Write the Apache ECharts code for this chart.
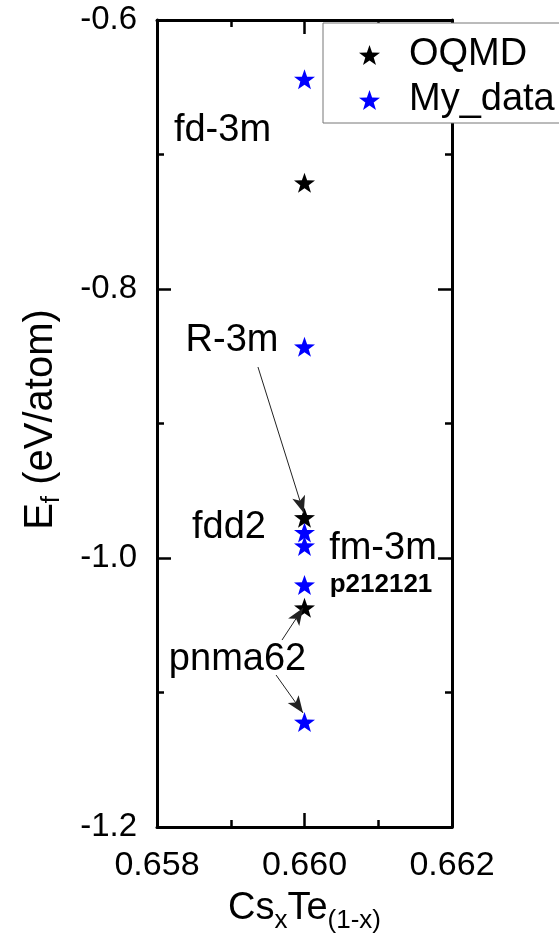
<!DOCTYPE html>
<html>
<head>
<meta charset="utf-8">
<script src="https://cdn.jsdelivr.net/npm/echarts@6/dist/echarts.min.js"></script>
<style>
  html, body { margin: 0; padding: 0; background: #fff; }
  #chart { width: 559px; height: 940px; }
</style>
</head>
<body>
<div id="chart"></div>
<script>
// Formation energy of CsxTe(1-x) phases at x = 0.660
const composition = 0.660;
const oqmdEnergies = [-0.721, -0.970, -1.037];
const myEnergies = [-0.644, -0.843, -0.981, -0.991, -1.020, -1.122];

const xTicks = [0.658, 0.660, 0.662];
const yTicks = [-1.2, -1.0, -0.8, -0.6];

// Phase labels placed in data coordinates
const phaseNames = ['fd-3m', 'R-3m', 'fdd2', 'fm-3m', 'p212121', 'pnma62'];
const phaseX = [0.658888, 0.659017, 0.658976, 0.661064, 0.661037, 0.659092];
const phaseY = [-0.6825, -0.838, -0.9777, -0.9926, -1.0200, -1.0758];

// Arrows from labels to structures
const arrowFromX = [0.659369, 0.659695, 0.659614];
const arrowFromY = [-0.858, -1.061, -1.087];
const arrowToX = [0.659990, 0.659980, 0.659980];
const arrowToY = [-0.9665, -1.0372, -1.1152];

const FONT = '"Liberation Sans", Arial, sans-serif';
const STAR = 'path://M0,-10 L2.35,-3.24 L9.51,-3.09 L3.8,1.24 L5.88,8.09 L0,4 L-5.88,8.09 L-3.8,1.24 L-9.51,-3.09 L-2.35,-3.24 Z';

const chart = echarts.init(document.getElementById('chart'), null, { renderer: 'canvas' });

const axisLine = { show: true, onZero: false, lineStyle: { color: '#000', width: 3 } };
const tick = { show: true, inside: true, length: 14, lineStyle: { color: '#000', width: 2.5 } };
const minor = { show: true, splitNumber: 2, length: 7, lineStyle: { color: '#000', width: 2.5 } };

const xBase = {
  type: 'value', min: xTicks[0], max: xTicks[xTicks.length - 1], interval: 0.002,
  axisLine, axisTick: tick, minorTick: minor, splitLine: { show: false }
};
const yBase = {
  type: 'value', min: yTicks[0], max: yTicks[yTicks.length - 1], interval: 0.2,
  axisLine, axisTick: tick, minorTick: minor, splitLine: { show: false }
};

const phaseData = phaseNames.map((n, i) => ({ name: n, value: [phaseX[i], phaseY[i]] }));
const arrowData = arrowFromX.map((x, i) => [
  { coord: [x, arrowFromY[i]] },
  { coord: [arrowToX[i], arrowToY[i]] }
]);

chart.setOption({
  animation: false,
  textStyle: { fontFamily: FONT },
  grid: { left: 157, right: 107, top: 20, bottom: 113 },
  legend: {
    data: ['OQMD', 'My_data'],
    orient: 'vertical',
    left: 323, top: 23,
    padding: [13, 20, 4, 36],
    itemGap: 7,
    itemWidth: 21, itemHeight: 20,
    backgroundColor: '#fff',
    borderColor: '#777', borderWidth: 1,
    textStyle: { fontSize: 38, color: '#000', fontFamily: FONT, padding: [0, 0, 0, 24] }
  },
  xAxis: [
    Object.assign({}, xBase, {
      position: 'bottom',
      axisLabel: { fontSize: 34, color: '#000', margin: 22, fontFamily: FONT,
        formatter: v => v.toFixed(3) },
      name: '{m|Cs}{s|x}{m|Te}{s|(1-x)}',
      nameLocation: 'middle', nameGap: 57,
      nameTextStyle: {
        rich: {
          m: { fontSize: 38, color: '#000', fontFamily: FONT },
          s: { fontSize: 26, color: '#000', fontFamily: FONT, padding: [24, 0, 0, 0] }
        }
      }
    }),
    Object.assign({}, xBase, { position: 'top', axisLabel: { show: false } })
  ],
  yAxis: [
    Object.assign({}, yBase, {
      position: 'left',
      axisLabel: { fontSize: 33, color: '#000', margin: 20, fontFamily: FONT,
        formatter: v => v.toFixed(1) },
      name: '{m|E}{s|f}{m| (eV/atom)}',
      nameLocation: 'middle', nameGap: 92, nameRotate: 90,
      nameTextStyle: {
        padding: [0, 0, 0, 8],
        rich: {
          m: { fontSize: 40, color: '#000', fontFamily: FONT },
          s: { fontSize: 26, color: '#000', fontFamily: FONT, padding: [23, 0, 0, 0] }
        }
      }
    }),
    Object.assign({}, yBase, { position: 'right', axisLabel: { show: false } })
  ],
  series: [
    {
      name: 'My_data', type: 'scatter', symbol: STAR, symbolSize: [21, 20],
      itemStyle: { color: '#0000ff', opacity: 1 }, z: 3,
      data: myEnergies.map(e => [composition, e])
    },
    {
      name: 'OQMD', type: 'scatter', symbol: STAR, symbolSize: [21, 20],
      itemStyle: { color: '#000', opacity: 1 }, z: 4,
      data: oqmdEnergies.map(e => [composition, e])
    },
    {
      name: 'phases', type: 'scatter', symbolSize: 0, z: 5, silent: true,
      itemStyle: { opacity: 1 },
      label: {
        show: true, position: 'inside', color: '#000', fontSize: 38, fontFamily: FONT,
        formatter: p => p.name === 'p212121' ? '{b|' + p.name + '}' : p.name,
        rich: { b: { fontSize: 26, fontWeight: 'bold', color: '#000', fontFamily: FONT } }
      },
      data: phaseData,
      markLine: {
        silent: true, symbol: ['none', 'arrow'], symbolSize: [10, 17],
        label: { show: false },
        lineStyle: { color: '#222', width: 1, type: 'solid', opacity: 1 },
        data: arrowData
      }
    }
  ]
});
</script>
</body>
</html>
